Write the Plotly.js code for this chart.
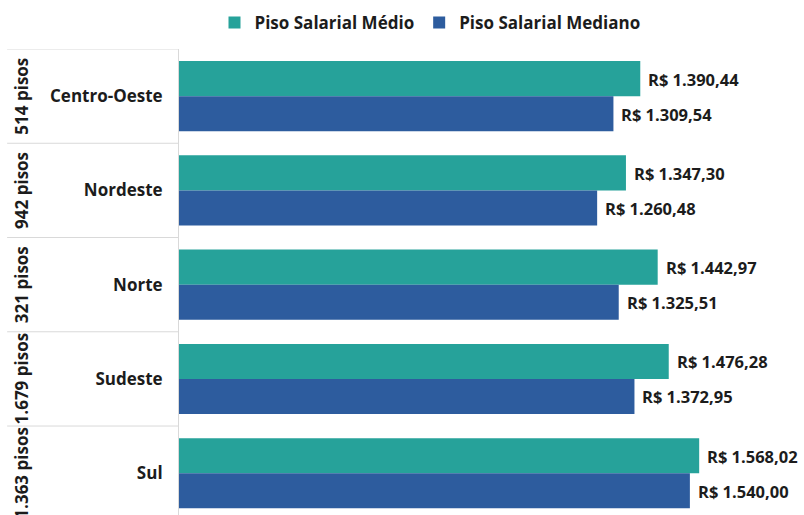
<!DOCTYPE html>
<html>
<head>
<meta charset="utf-8">
<script src="https://cdn.plot.ly/plotly-3.0.1.min.js"></script>
<style>html,body{margin:0;padding:0;background:#fff;}#chart{width:804px;height:515px;}</style>
</head>
<body>
<div id="chart"></div>
<script>
const regions = ['Centro-Oeste', 'Nordeste', 'Norte', 'Sudeste', 'Sul'];
const pisoCounts = ['514 pisos', '942 pisos', '321 pisos', '1.679 pisos', '1.363 pisos'];
const medio = [1390.44, 1347.30, 1442.97, 1476.28, 1568.02];
const mediano = [1309.54, 1260.48, 1325.51, 1372.95, 1540.00];
const seriesNames = ['Piso Salarial Médio', 'Piso Salarial Mediano'];

const FONT = '"Open Sans", Lato, sans-serif';
const TXT = '#1c1c1c';
const TEAL = '#26A29A';
const BLUE = '#2D5C9E';

function brl(v) {
  const parts = v.toFixed(2).split('.');
  const int = parts[0].replace(/\B(?=(\d{3})+(?!\d))/g, '.');
  return 'R$ ' + int + ',' + parts[1];
}

const traces = [
  {type: 'bar', orientation: 'h', name: seriesNames[0], y: regions, x: medio,
   marker: {color: TEAL}, hoverinfo: 'x'},
  {type: 'bar', orientation: 'h', name: seriesNames[1], y: regions, x: mediano,
   marker: {color: BLUE}, hoverinfo: 'x'}
];

const annotations = [];
const shapes = [];
regions.forEach((r, i) => {
  annotations.push({x: medio[i], y: r, xref: 'x', yref: 'y', text: '<b>' + brl(medio[i]) + '</b>',
    showarrow: false, xanchor: 'left', yanchor: 'middle', xshift: 6, yshift: 17,
    font: {family: FONT, size: 16.5, color: TXT}});
  annotations.push({x: mediano[i], y: r, xref: 'x', yref: 'y', text: '<b>' + brl(mediano[i]) + '</b>',
    showarrow: false, xanchor: 'left', yanchor: 'middle', xshift: 6, yshift: -18,
    font: {family: FONT, size: 16.5, color: TXT}});
  annotations.push({x: -0.252, y: r, xref: 'paper', yref: 'y', text: '<b>' + pisoCounts[i] + '</b>',
    showarrow: false, textangle: -90, xanchor: 'center', yanchor: 'middle',
    font: {family: FONT, size: 17, color: TXT}});
  shapes.push({type: 'line', xref: 'paper', yref: 'y', x0: -0.275, x1: 0, y0: i - 0.5, y1: i - 0.5,
    line: {color: '#d9d9d9', width: 1}});
});

const layout = {
  width: 804, height: 515,
  margin: {l: 179, r: 0, t: 49, b: 0, pad: 0},
  paper_bgcolor: '#fff', plot_bgcolor: '#fff',
  barmode: 'group', bargap: 0.257, bargroupgap: 0,
  font: {family: FONT, color: TXT},
  showlegend: true,
  legend: {orientation: 'h', x: 0.4016, xanchor: 'center', y: 1.056, yanchor: 'middle',
    font: {family: FONT, size: 17, color: TXT, weight: 'bold'}, traceorder: 'normal', itemclick: false},
  xaxis: {range: [0, 1884], visible: false, showgrid: false, zeroline: false, fixedrange: true},
  yaxis: {type: 'category', range: [4.444, -0.5], showgrid: false, zeroline: false,
    showline: true, linecolor: '#d9d9d9', linewidth: 1,
    ticks: 'outside', ticklen: 12, tickcolor: 'rgba(0,0,0,0)',
    tickfont: {family: FONT, size: 17, color: TXT, weight: 'bold'}, fixedrange: true},
  annotations: annotations,
  shapes: shapes
};

Plotly.newPlot('chart', traces, layout, {displayModeBar: false, staticPlot: true});
</script>
</body>
</html>
